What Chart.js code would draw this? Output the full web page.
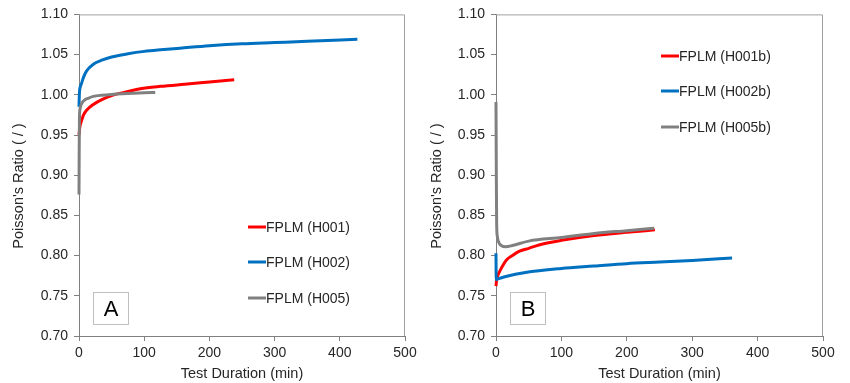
<!DOCTYPE html>
<html><head><meta charset="utf-8">
<script src="https://cdn.jsdelivr.net/npm/chart.js@4/dist/chart.umd.min.js"></script>
<style>
html,body{margin:0;padding:0;background:#fff;}
#wrap{position:relative;width:850px;height:383px;overflow:hidden;}
.box{position:absolute;top:0;width:425px;height:383px;}
</style></head><body>
<div id="wrap">
<div class="box" style="left:0"><canvas id="cA" width="425" height="383"></canvas></div>
<div class="box" style="left:425px"><canvas id="cB" width="425" height="383"></canvas></div>
</div>
<script>
// ---- Panel A data ----
const xTicks = [0, 100, 200, 300, 400, 500];
const yTicks = [0.70, 0.75, 0.80, 0.85, 0.90, 0.95, 1.00, 1.05, 1.10];

const labelsA = ['FPLM (H001)', 'FPLM (H002)', 'FPLM (H005)'];
const xH001 = [0, 1, 2, 4, 7, 12, 22, 35, 50, 75, 94, 125, 170, 200, 238];
const yH001 = [0.950, 0.958, 0.963, 0.968, 0.975, 0.981, 0.988, 0.994, 0.999, 1.004, 1.0075, 1.0105, 1.0136, 1.016, 1.0188];
const xH002 = [0, 0.5, 1, 2, 4, 7, 12, 22, 35, 50, 75, 100, 125, 155, 200, 250, 300, 350, 427];
const yH002 = [0.985, 1.000, 1.006, 1.010, 1.0145, 1.022, 1.030, 1.038, 1.043, 1.047, 1.051, 1.054, 1.056, 1.058, 1.061, 1.0635, 1.065, 1.0665, 1.069];
const xH005 = [0, 0.3, 0.7, 1, 2, 4, 8, 15, 22, 35, 50, 75, 100, 117];
const yH005 = [0.876, 0.930, 0.970, 0.978, 0.984, 0.989, 0.993, 0.996, 0.998, 0.9995, 1.0005, 1.0015, 1.0025, 1.003];

// ---- Panel B data ----
const labelsB = ['FPLM (H001b)', 'FPLM (H002b)', 'FPLM (H005b)'];
const xH001b = [0, 1, 3, 6, 10, 16, 25, 36, 50, 67, 100, 150, 200, 243];
const yH001b = [0.762, 0.770, 0.776, 0.781, 0.787, 0.7945, 0.800, 0.8055, 0.809, 0.8135, 0.819, 0.825, 0.829, 0.832];
const xH002b = [0, 0.3, 3, 15, 45, 100, 150, 200, 250, 300, 361];
const yH002b = [0.803, 0.770, 0.771, 0.774, 0.779, 0.784, 0.787, 0.790, 0.792, 0.794, 0.797];
const xH005b = [0, 0.5, 1, 2, 4, 8, 15, 25, 50, 100, 150, 200, 242];
const yH005b = [0.991, 0.900, 0.840, 0.824, 0.817, 0.8125, 0.811, 0.8125, 0.818, 0.8225, 0.8275, 0.831, 0.834];

const colors = ['#ff0000', '#0070c0', '#808080'];
const FONT = "'Liberation Sans', Arial, sans-serif";
const TXT = '#262626';
const AXC = '#808080';

function pts(xs, ys) { return xs.map((x, i) => ({x: x, y: ys[i]})); }

const decoPlugin = {
  id: 'deco',
  beforeDatasetsDraw(chart, args, o) {
    const ctx = chart.ctx, a = chart.chartArea;
    ctx.save();
    ctx.strokeStyle = '#a0a0a0';
    ctx.lineWidth = 1;
    ctx.beginPath();
    ctx.moveTo(a.left, a.top + 0.5);
    ctx.lineTo(a.right - 0.5, a.top + 0.5);
    ctx.lineTo(a.right - 0.5, a.bottom);
    ctx.stroke();
    ctx.restore();
  },
  afterDraw(chart, args, o) {
    const ctx = chart.ctx;
    ctx.save();
    // y title
    ctx.translate(o.yTitleX, o.yTitleY);
    ctx.rotate(-Math.PI / 2);
    ctx.font = '14.5px ' + FONT;
    ctx.fillStyle = TXT;
    ctx.textAlign = 'center';
    ctx.textBaseline = 'middle';
    ctx.fillText("Poisson's Ratio ( / )", 0, 0);
    ctx.restore();
    // legend
    ctx.save();
    ctx.font = '14px ' + FONT;
    ctx.textBaseline = 'middle';
    ctx.textAlign = 'left';
    chart.data.datasets.forEach((ds, i) => {
      const y = o.legY[i];
      ctx.strokeStyle = ds.borderColor;
      ctx.lineWidth = 3;
      ctx.beginPath();
      ctx.moveTo(o.legX, y);
      ctx.lineTo(o.legX + 18, y);
      ctx.stroke();
      ctx.fillStyle = TXT;
      ctx.fillText(ds.label, o.legX + 18, y + 1);
    });
    ctx.restore();
    // letter box
    ctx.save();
    const b = o.box;
    ctx.strokeStyle = '#bfbfbf';
    ctx.lineWidth = 1;
    ctx.strokeRect(b[0] + 0.5, b[1] + 0.5, b[2] - b[0], b[3] - b[1]);
    ctx.font = '22px ' + FONT;
    ctx.fillStyle = '#000';
    ctx.textAlign = 'center';
    ctx.textBaseline = 'middle';
    ctx.fillText(o.letter, (b[0] + b[2]) / 2 + 0.5, (b[1] + b[3]) / 2 + 1.5);
    ctx.restore();
  }
};

function makeChart(id, labels, series, plotLeft, plotRight, deco) {
  const order = [3, 2, 1];
  return new Chart(document.getElementById(id), {
    type: 'line',
    data: {
      datasets: series.map((s, i) => ({
        label: labels[i],
        data: pts(s[0], s[1]),
        borderColor: colors[i],
        backgroundColor: colors[i],
        borderWidth: 3,
        pointRadius: 0,
        fill: false,
        cubicInterpolationMode: 'monotone',
        order: order[i],
        clip: 4
      }))
    },
    options: {
      responsive: false,
      animation: false,
      layout: {padding: {top: 7, right: 425 - plotRight, left: 0, bottom: 0}},
      plugins: {legend: {display: false}, tooltip: {enabled: false}, deco: deco},
      scales: {
        x: {
          type: 'linear', min: 0, max: 500,
          afterBuildTicks: s => { s.ticks = xTicks.map(v => ({value: v})); },
          afterFit: s => { s.height = 47; },
          ticks: {font: {family: FONT, size: 14}, color: TXT, padding: 4, maxRotation: 0},
          grid: {display: true, drawOnChartArea: false, drawTicks: true, tickLength: 5, color: AXC},
          border: {display: true, color: AXC, width: 1},
          title: {display: true, text: 'Test Duration (min)', font: {family: FONT, size: 14.5}, color: TXT, padding: {top: 0, bottom: 0}}
        },
        y: {
          type: 'linear', min: 0.70, max: 1.10,
          afterBuildTicks: s => { s.ticks = yTicks.map(v => ({value: v})); },
          afterFit: s => { s.width = plotLeft; },
          ticks: {font: {family: FONT, size: 14}, color: TXT, padding: 6, callback: v => v.toFixed(2)},
          grid: {display: true, drawOnChartArea: false, drawTicks: true, tickLength: 5, color: AXC},
          border: {display: true, color: AXC, width: 1}
        }
      }
    },
    plugins: [decoPlugin]
  });
}

makeChart('cA', labelsA, [[xH001, yH001], [xH002, yH002], [xH005, yH005]], 79, 405,
  {yTitleX: 19, yTitleY: 186, legX: 248, legY: [227, 262, 298], box: [93, 292, 128, 324], letter: 'A'});
makeChart('cB', labelsB, [[xH001b, yH001b], [xH002b, yH002b], [xH005b, yH005b]], 71, 398,
  {yTitleX: 12, yTitleY: 186, legX: 236, legY: [56, 91, 127], box: [85, 292, 120, 324], letter: 'B'});
</script>
</body></html>
